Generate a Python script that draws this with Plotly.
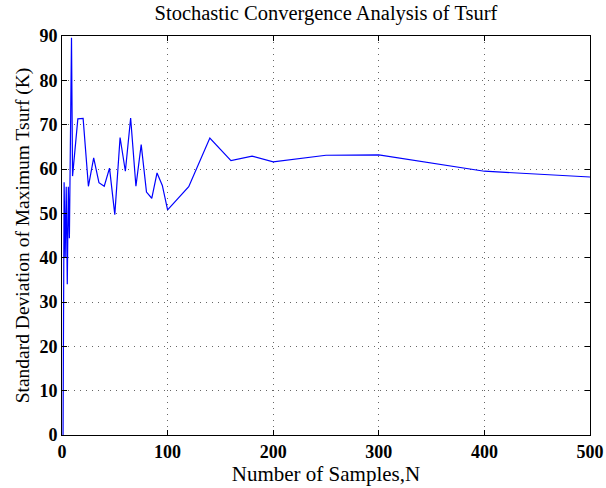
import plotly.graph_objects as go

# Sample counts N and the standard deviation of maximum Tsurf (K) at each N
samples_n = [1, 2, 3, 4, 5, 6, 7, 8, 9, 10,
             15, 20, 25, 30, 35, 40, 45, 50, 55, 60,
             65, 70, 75, 80, 85, 90, 95, 100,
             120, 140, 160, 180, 200, 250, 300, 400, 500]
std_max_tsurf = [0.0, 57.0, 40.0, 56.0, 34.0, 56.0, 44.4, 67.0, 89.6, 58.4,
                 71.3, 71.4, 56.1, 62.5, 56.9, 56.1, 60.2, 49.7, 67.1, 59.5,
                 71.5, 56.1, 65.5, 54.8, 53.4, 59.1, 56.3, 50.8,
                 56.0, 67.0, 61.9, 62.9, 61.6, 63.1, 63.2, 59.5, 58.2]

x_ticks = [0, 100, 200, 300, 400, 500]
y_ticks = [0, 10, 20, 30, 40, 50, 60, 70, 80, 90]

serif = "Liberation Serif, Times New Roman, serif"

fig = go.Figure()
fig.add_trace(go.Scatter(
    x=samples_n, y=std_max_tsurf, mode="lines",
    line=dict(color="#0000ff", width=1.2),
    showlegend=False, hoverinfo="skip",
))

axis_common = dict(
    showline=True, linecolor="black", linewidth=1, mirror="ticks",
    ticks="inside", ticklen=5, tickcolor="black",
    showgrid=True, gridcolor="rgba(0,0,0,0.6)", griddash="1px,5px", gridwidth=1,
    zeroline=False, automargin=False,
    tickfont=dict(family=serif, size=18, color="black", weight="bold"),
)

fig.update_layout(
    width=606, height=488,
    margin=dict(l=62, r=16, t=36, b=53),
    paper_bgcolor="white", plot_bgcolor="white",
    title=dict(
        text="Stochastic Convergence Analysis of Tsurf",
        font=dict(family=serif, size=20.5, color="black"),
        x=(62 + 590) / 2 / 606, xanchor="center",
        y=1 - 13 / 488, yanchor="middle",
    ),
    xaxis=dict(
        range=[0, 500], tickvals=x_ticks,
        title=dict(text="Number of Samples,N",
                   font=dict(family=serif, size=21, color="black"),
                   standoff=1),
        **axis_common,
    ),
    yaxis=dict(
        range=[0, 90], tickvals=y_ticks,
        title=dict(text="Standard Deviation of Maximum Tsurf (K)",
                   font=dict(family=serif, size=19.5, color="black"),
                   standoff=4),
        **axis_common,
    ),
)

fig.write_html("out.html")
